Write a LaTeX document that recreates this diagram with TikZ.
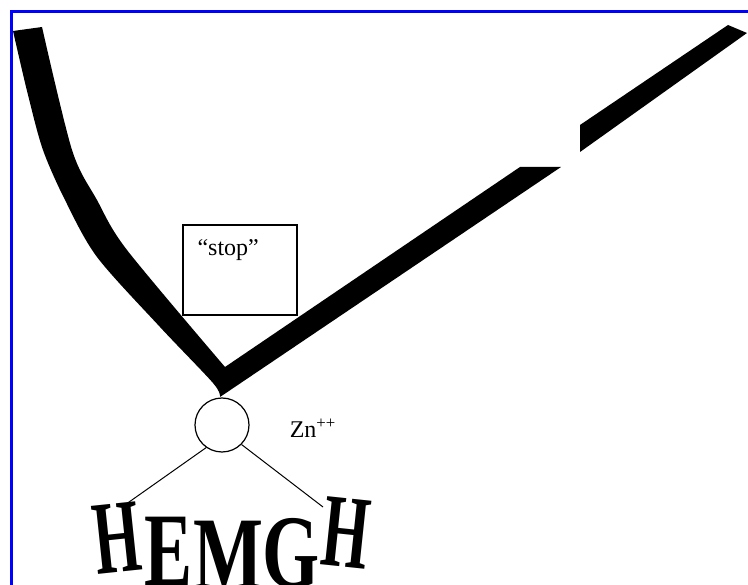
\documentclass[tikz,border=0pt]{standalone}
\usepackage{fontspec}
\setmainfont{Liberation Serif}
\usetikzlibrary{positioning}
\tikzset{
  frame/.style={draw=blue, line width=3pt},
  band/.style={fill=black},
  stopbox/.style={rectangle, draw=black, line width=1.3pt, minimum width=114pt, minimum height=90pt, inner sep=0pt},
  ion/.style={circle, draw=black, line width=1.2pt, minimum size=54pt, inner sep=0pt},
  word/.style={font=\fontsize{24}{28}\selectfont, inner sep=0pt},
  glyph/.style={font=\fontsize{72}{72}\selectfont\bfseries, inner sep=0pt, anchor=base},
  link/.style={draw=black, line width=1pt},
}

\begin{document}
\begin{tikzpicture}[x=1pt, y=-1pt]

\useasboundingbox (0,0) rectangle (748,585);
\clip (0,0) rectangle (748,585);

% Frame
\draw[frame] (11,590) -- (11,12) -- (752,12);

% Thick band
\fill[band] (13,31) -- plot[smooth, tension=0.5] coordinates {(13,31) (28,95) (43,150) (65,200) (97,257) (160,327) (213,383) (220,397)}
  -- (561,167) -- (520,167) -- (225,367)
  -- plot[smooth, tension=0.5] coordinates {(225,367) (127,250) (97,200) (72,150) (42,27)} -- cycle;
\fill[band] (580,125) -- (728,25) -- (747,33) -- (580,152) -- cycle;

% Stop box
\node[stopbox] (stop) at (240,270) {};
\node[word, below right=15pt and 15pt of stop.north west] (stoptext) {``stop''};

% Zinc ion
\node[ion] (zn) at (222,425) {};
\node[word, right=40pt of zn, yshift=-3pt] (znlabel) {Zn\textsuperscript{++}};

% HEMGH
\node[glyph, rotate=6] (h1) at (121,572) {\scalebox{0.83}[1.45]{H}};
\node[glyph] (e) at (169,585) {\scalebox{1.0}[1.45]{E}};
\node[glyph] (m) at (228,590) {\scalebox{1.03}[1.45]{M}};
\node[glyph] (g) at (291,587) {\scalebox{1.02}[1.45]{G}};
\node[glyph, rotate=-6] (h2) at (343,567) {\scalebox{0.83}[1.45]{H}};

% Links to HEMGH
\coordinate (hl) at (122,507);
\coordinate (hr) at (323,507);
\draw[link] (zn.235) -- (hl);
\draw[link] (zn.315) -- (hr);

\end{tikzpicture}
\end{document}
